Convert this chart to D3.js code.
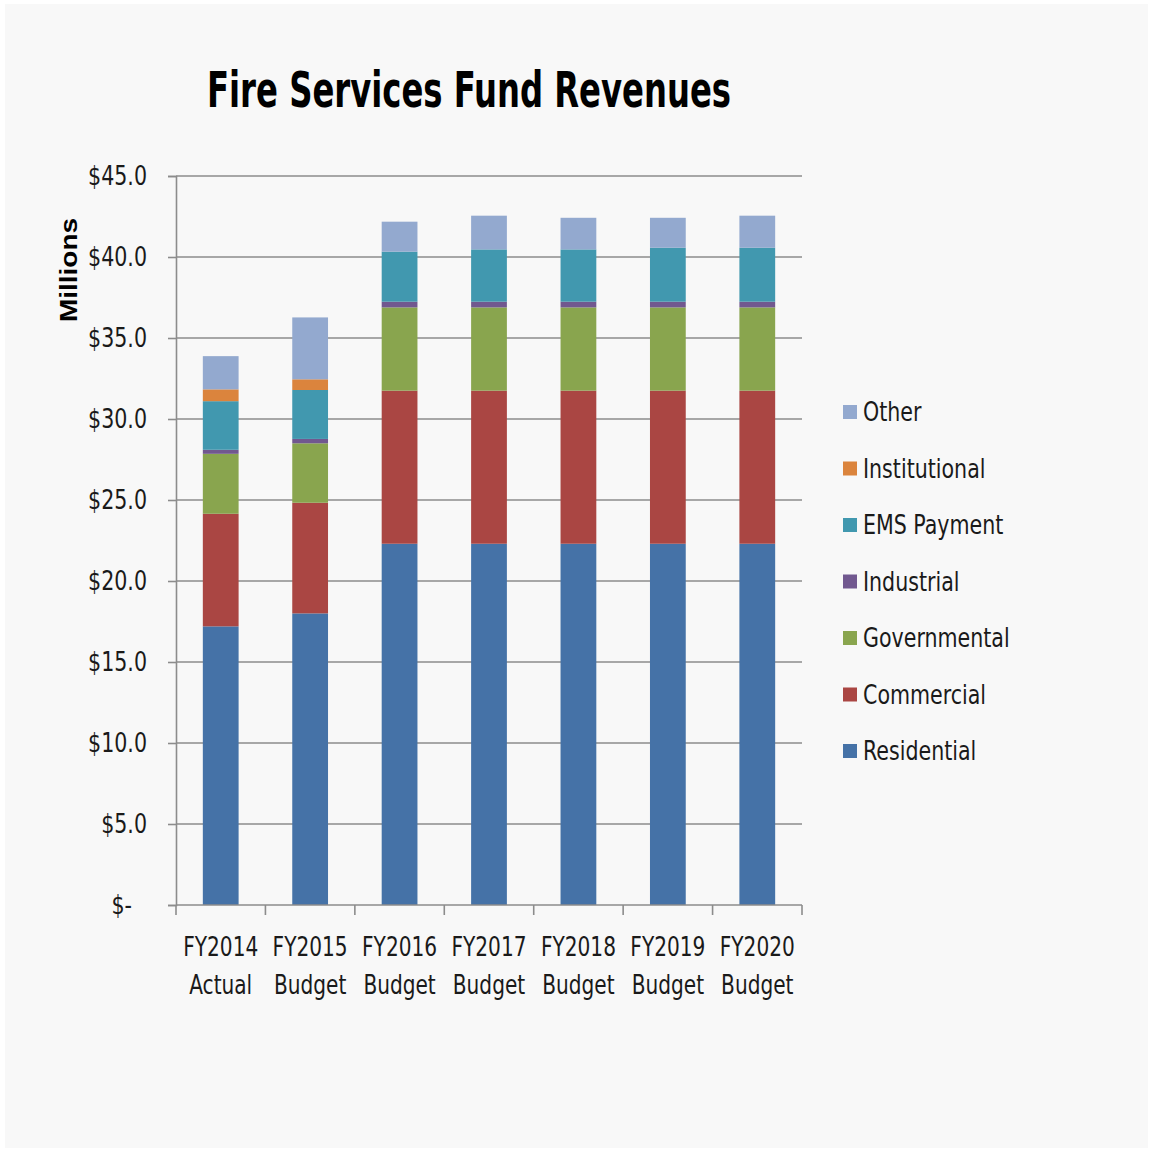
<!DOCTYPE html>
<html><head><meta charset="utf-8">
<script src="https://cdn.jsdelivr.net/npm/d3@7"></script>
<style>
html,body{margin:0;padding:0;background:#fff;}
text{font-family:"Liberation Sans Narrow","DejaVu Sans Condensed","Roboto Condensed",sans-serif;}
</style></head>
<body>
<svg id="chart" width="1150" height="1151"></svg>
<script>
const categories = ["FY2014|Actual","FY2015|Budget","FY2016|Budget","FY2017|Budget","FY2018|Budget","FY2019|Budget","FY2020|Budget"];
const seriesNames = ["Residential","Commercial","Governmental","Industrial","EMS Payment","Institutional","Other"];
const residential   = [17.2, 18.0, 22.3, 22.3, 22.3, 22.3, 22.3];
const commercial    = [6.95, 6.83, 9.45, 9.45, 9.45, 9.45, 9.45];
const governmental  = [3.70, 3.67, 5.14, 5.14, 5.14, 5.14, 5.14];
const industrial    = [0.25, 0.27, 0.35, 0.35, 0.35, 0.35, 0.35];
const emsPayment    = [3.00, 3.02, 3.09, 3.23, 3.23, 3.33, 3.33];
const institutional = [0.73, 0.66, 0.00, 0.00, 0.00, 0.00, 0.00];
const other         = [2.05, 3.82, 1.85, 2.08, 1.95, 1.85, 1.98];
const yTickValues = [0,5,10,15,20,25,30,35,40,45];
const yTickLabels = ["$-","$5.0","$10.0","$15.0","$20.0","$25.0","$30.0","$35.0","$40.0","$45.0"];
const colors = ["#4572A7","#AA4643","#89A54E","#71588F","#4198AF","#DB843D","#93A9CF"];

const seriesValues = [residential, commercial, governmental, industrial, emsPayment, institutional, other];
const table = categories.map((c,i)=>{
  const row = {cat:c};
  seriesNames.forEach((s,j)=>row[s]=seriesValues[j][i]);
  return row;
});

const svg = d3.select("#chart");
svg.append("rect").attr("x",5).attr("y",4).attr("width",1143).attr("height",1144).attr("fill","#f8f8f8");

const pLeft=176, pRight=802, pTop=176, pBottom=905;
const x = d3.scaleBand().domain(categories).range([pLeft,pRight]).paddingInner(0.6).paddingOuter(0.3);
const xb = d3.scaleBand().domain(categories).range([pLeft,pRight]);
const y = d3.scaleLinear().domain([0,45]).range([pBottom,pTop]);

function squeeze(sel, f){
  sel.each(function(){
    const w = this.getComputedTextLength();
    d3.select(this).attr("textLength", w*f).attr("lengthAdjust","spacingAndGlyphs");
  });
}

// gridlines
svg.append("g").selectAll("line").data(yTickValues.slice(1)).join("line")
  .attr("x1",pLeft).attr("x2",pRight).attr("y1",d=>y(d)).attr("y2",d=>y(d))
  .attr("stroke","#8c8c8c").attr("stroke-width",1.6);

// bars
const stack = d3.stack().keys(seriesNames)(table);
svg.append("g").selectAll("g").data(stack).join("g")
  .attr("fill",(d,i)=>colors[i])
  .selectAll("rect").data(d=>d).join("rect")
  .attr("x",d=>x(d.data.cat)).attr("width",x.bandwidth())
  .attr("y",d=>y(d[1])).attr("height",d=>Math.max(0,y(d[0])-y(d[1])));

// y axis
const yAxis = d3.axisLeft(y).tickValues(yTickValues)
  .tickFormat((d,i)=>yTickLabels[i]).tickSize(8).tickPadding(21);
const ya = svg.append("g").attr("transform",`translate(${pLeft},0)`).call(yAxis);
ya.select(".domain").attr("stroke","#8c8c8c").attr("stroke-width",1.6);
ya.selectAll(".tick line").attr("stroke","#8c8c8c").attr("stroke-width",1.6);
ya.selectAll(".tick text").attr("font-size",26).attr("fill","#1a1a1a")
  .attr("font-family",'"Liberation Sans Narrow","DejaVu Sans Condensed",sans-serif')
  .attr("dx",(d)=>d===0?-15:0);
squeeze(ya.selectAll(".tick text"), 0.88);

// x axis
const xa = svg.append("g").attr("transform",`translate(0,${pBottom})`);
xa.append("line").attr("x1",pLeft).attr("x2",pRight).attr("y1",0).attr("y2",0)
  .attr("stroke","#8c8c8c").attr("stroke-width",1.6);
const bounds = categories.map(c=>xb(c)).concat([pRight]);
xa.selectAll("line.tk").data(bounds).join("line").attr("class","tk")
  .attr("x1",d=>d).attr("x2",d=>d).attr("y1",0).attr("y2",10)
  .attr("stroke","#8c8c8c").attr("stroke-width",1.6);
const cx = d=>xb(d)+xb.bandwidth()/2;
const xl1 = xa.selectAll("text.l1").data(categories).join("text").attr("class","l1")
  .attr("text-anchor","middle").attr("font-size",26).attr("fill","#1a1a1a")
  .attr("x",cx).attr("y",51).text(d=>d.split("|")[0]);
const xl2 = xa.selectAll("text.l2").data(categories).join("text").attr("class","l2")
  .attr("text-anchor","middle").attr("font-size",26).attr("fill","#1a1a1a")
  .attr("x",cx).attr("y",89).text(d=>d.split("|")[1]);
squeeze(xl1, 0.86);
squeeze(xl2, 0.86);

// y axis title
svg.append("text").attr("transform","translate(77,270) rotate(-90)")
  .attr("text-anchor","middle").attr("font-size",23).attr("font-weight","bold")
  .attr("textLength",104).attr("lengthAdjust","spacingAndGlyphs")
  .style("font-family",'"Liberation Sans",Arial,sans-serif').attr("fill","#000").text("Millions");

// title
svg.append("text").attr("x",207).attr("y",107).attr("font-size",50).attr("font-weight","bold")
  .attr("textLength",524).attr("lengthAdjust","spacingAndGlyphs").attr("fill","#000")
  .text("Fire Services Fund Revenues");

// legend
const legendOrder = seriesNames.slice().reverse();
const lg = svg.append("g").selectAll("g").data(legendOrder).join("g")
  .attr("transform",(d,i)=>`translate(843,${412+i*56.5})`);
lg.append("rect").attr("x",0).attr("y",-7).attr("width",14).attr("height",14)
  .attr("fill",d=>colors[seriesNames.indexOf(d)]);
const lt = lg.append("text").attr("x",20).attr("y",9).attr("font-size",26).attr("fill","#1a1a1a").text(d=>d);
squeeze(lt, 0.88);
</script>
</body></html>
